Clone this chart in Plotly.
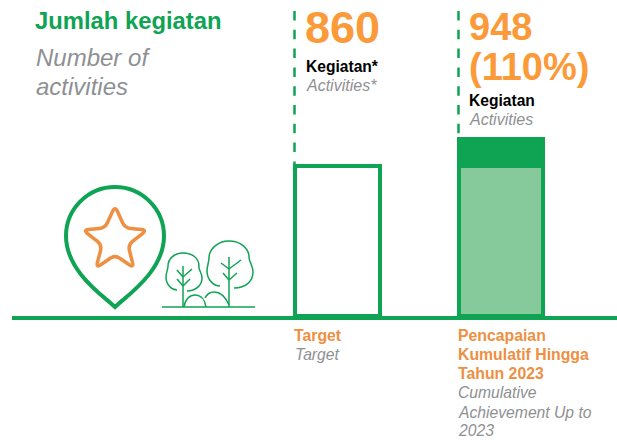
"""Number of activities: target against cumulative achievement, with pictogram"""
import re
import plotly.graph_objects as go

WIDTH = 617
HEIGHT = 440
GREEN = "#0FA354"
LIGHT_GREEN = "#86CA9C"
ORANGE_BIG = "#FA9A38"
ORANGE = "#EE8F42"
GREY = "#8E9093"
FONT = "Liberation Sans"

categories = ["Target", "Pencapaian"]
# bar heights as drawn in the picture (the second column is not to scale with 948)
target_values = [860, None]
achieved_values = [None, 860]
achieved_excess = [None, 153]

# text, x pixel, baseline pixel, size, colour, bold, italic
labels = [
    ("Jumlah kegiatan", 35, 28, 23.8, GREEN, True, False),
    ("Number of", 35.5, 65, 24, GREY, False, True),
    ("activities", 35.5, 94, 24, GREY, False, True),
    ("860", 305, 43, 45, ORANGE_BIG, True, False),
    ("Kegiatan*", 305.5, 71, 15.6, "#000000", True, False),
    ("Activities*", 305.5, 90, 16, GREY, False, True),
    ("948", 469, 39, 38, ORANGE_BIG, True, False),
    ("(110%)", 469, 79, 38, ORANGE_BIG, True, False),
    ("Kegiatan", 469, 105, 15.6, "#000000", True, False),
    ("Activities", 469, 124, 16, GREY, False, True),
    ("Target", 294, 340, 15.8, ORANGE, True, False),
    ("Target", 295, 359, 15.7, GREY, False, True),
    ("Pencapaian", 458, 340, 15.8, ORANGE, True, False),
    ("Kumulatif Hingga", 458, 359, 15.8, ORANGE, True, False),
    ("Tahun 2023", 458, 378, 15.8, ORANGE, True, False),
    ("Cumulative", 458, 397, 15.7, GREY, False, True),
    ("Achievement Up to", 458, 417, 15.7, GREY, False, True),
    ("2023", 458, 435, 15.7, GREY, False, True),
]


def to_paper(path):
    # pixel path (M L C Q Z only) -> paper fractions
    nums = iter(range(10000))

    def conv(m):
        v = float(m.group())
        if next(nums) % 2 == 0:
            return f"{v / WIDTH:.5f}"
        return f"{1 - v / HEIGHT:.5f}"

    return re.sub(r"-?\d+\.?\d*", conv, path)


def icon(path, color, width):
    return dict(
        type="path",
        xref="paper",
        yref="paper",
        path=to_paper(path),
        line=dict(color=color, width=width),
        fillcolor="rgba(0,0,0,0)",
    )


def rounded_star():
    pts = [
        (115, 206), (125, 228), (147, 230), (128, 245), (134, 268),
        (115, 255), (96, 268), (102, 245), (83, 230), (105, 228),
    ]
    d = ""
    for i, (x, y) in enumerate(pts):
        px, py = pts[i - 1]
        nx, ny = pts[(i + 1) % len(pts)]
        a = (x + (px - x) * 0.25, y + (py - y) * 0.25)
        b = (x + (nx - x) * 0.25, y + (ny - y) * 0.25)
        d += f"{'M' if i == 0 else 'L'}{a[0]:.1f} {a[1]:.1f} Q{x} {y} {b[0]:.1f} {b[1]:.1f} "
    return d + "Z"


pin = "M115 307 C105 297 66 272 66 236 C66 209 88 187 115 187 C142 187 164 209 164 236 C164 272 125 297 115 307 Z"
trees = [
    "M162 307 L255 307",
    "M183 307 L183 266",
    "M183 286 L177 279 M183 286 L190 279 M183 277 L177 270 M183 277 L192 269",
    "M187 291 C196 291 202 285 202 278 C202 272 198 270 199 266 C199 258 192 253 183 253 "
    "C174 253 168 259 168 266 C168 270 166 272 166 277 C166 285 172 290 177 290",
    "M229 307 L229 257",
    "M229 280 L223 273 M229 280 L237 273 M229 269 L221 263 M229 269 L241 260",
    "M234 288 C246 288 253 281 253 272 C253 265 249 262 249 257 C249 248 240 241 229 241 "
    "C218 241 209 249 209 258 C209 262 207 266 207 271 C207 280 214 286 220 286",
    "M184 307 C185 299 190 295 195 295 C201 295 205 300 206 307",
    "M205 298 C207 294 210 292 214 292 C220 292 225 296 229 305",
]

fig = go.Figure(
    data=[
        go.Bar(
            x=categories,
            y=target_values,
            marker=dict(color="#FFFFFF", line=dict(color=GREEN, width=4)),
        ),
        go.Bar(
            x=categories,
            y=achieved_values,
            marker=dict(color=LIGHT_GREEN, line=dict(color=GREEN, width=4)),
        ),
        go.Bar(
            x=categories,
            y=achieved_excess,
            marker=dict(color=GREEN, line=dict(color=GREEN, width=4)),
        ),
    ]
)

shapes = [icon(pin, GREEN, 4), icon(rounded_star(), ORANGE, 3.5)]
shapes += [icon(t, GREEN, 1.5) for t in trees]
for x, y_end in [(294.5, 165), (458.5, 136)]:
    shapes.append(
        dict(
            type="line",
            xref="paper",
            yref="paper",
            x0=x / WIDTH,
            x1=x / WIDTH,
            y0=1 - 11 / HEIGHT,
            y1=1 - y_end / HEIGHT,
            line=dict(color=GREEN, width=2.5, dash="9.5px,9.3px"),
        )
    )

annotations = [
    dict(
        text=("<b>%s</b>" % t if b else "<i>%s</i>" % t if i else t),
        x=x / WIDTH,
        y=1 - (base + 0.21 * size + 1) / HEIGHT,
        xref="paper",
        yref="paper",
        xanchor="left",
        yanchor="bottom",
        showarrow=False,
        borderpad=0,
        borderwidth=0,
        font=dict(family=FONT, size=size, color=c),
    )
    for t, x, base, size, c, b, i in labels
]

# one category step is 163.75 px, first bar centred on 337.25 px, baseline at 316 px
x_left = -(337.25 - 12) / 163.75
x_right = (WIDTH - 337.25) / 163.75
fig.update_layout(
    barmode="stack",
    bargap=1 - 84.5 / 163.75,
    plot_bgcolor="white",
    paper_bgcolor="white",
    autosize=False,
    width=WIDTH,
    height=HEIGHT,
    margin=dict(l=0, r=0, t=0, b=0, pad=0),
    showlegend=False,
    shapes=shapes,
    annotations=annotations,
)
fig.update_xaxes(
    domain=[12 / WIDTH, 1],
    range=[x_left, x_right],
    showline=True,
    linecolor=GREEN,
    linewidth=4,
    showgrid=False,
    showticklabels=False,
    ticks="",
    zeroline=False,
)
fig.update_yaxes(
    domain=[1 - 316 / HEIGHT, 1],
    range=[0, 316 / (150 / 860)],
    visible=False,
    showgrid=False,
    zeroline=False,
)

fig.write_html(
    "out.html",
    config=dict(displayModeBar=False),
    post_script="document.body.style.margin='0';",
)
